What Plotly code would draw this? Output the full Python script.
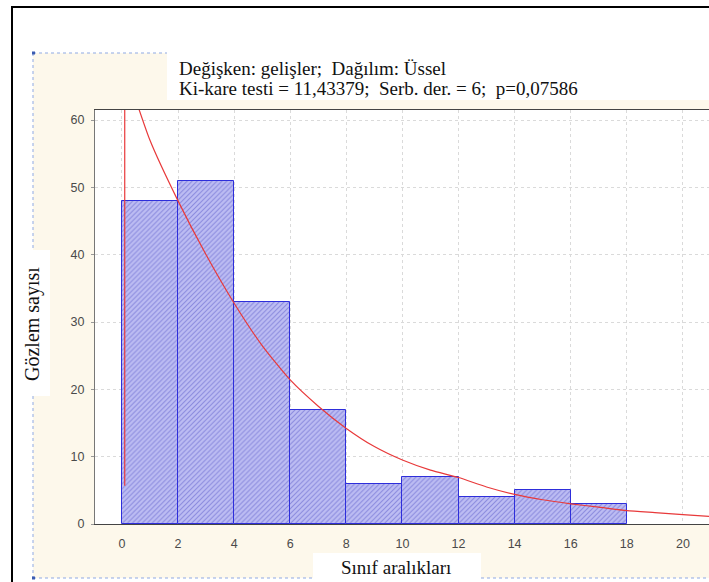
import plotly.graph_objects as go

# ---- data ----
bin_left = [0, 2, 4, 6, 8, 10, 12, 14, 16]
bin_width = 2
counts = [48, 51, 33, 17, 6, 7, 4, 5, 3]

# fitted curve
spike_x = [0.1, 0.1]
spike_y = [5.7, 68]
curve_x = [0.1, 1, 2, 3, 4, 5, 6, 7, 8, 9, 10, 11, 12, 13, 14, 15, 16, 17, 18, 19, 20, 21]
curve_y = [68, 57, 48, 40, 32.8, 26.5, 21.4, 17.5, 14.2, 11.5, 9.5, 8.0, 6.9, 5.5, 4.4, 3.6, 3.0, 2.5, 2.0, 1.7, 1.4, 1.1]

x_ticks = [0, 2, 4, 6, 8, 10, 12, 14, 16, 18, 20]
y_ticks = [0, 10, 20, 30, 40, 50, 60]

title_lines = ["Değişken: gelişler;  Dağılım: Üssel",
               "Ki-kare testi = 11,43379;  Serb. der. = 6;  p=0,07586"]
x_title = "Sınıf aralıkları"
y_title = "Gözlem sayısı"

# ---- layout geometry (pixels) ----
W, H = 709, 582
L, R, T, B = 95, 0, 110, 58
PW, PH = W - L - R, H - T - B


def px(x):
    return (x - L) / PW


def py(y):
    return (H - B - y) / PH


centers = [b + bin_width / 2 for b in bin_left]
SERIF = "Liberation Serif, Times New Roman, serif"

fig = go.Figure()
fig.add_trace(go.Bar(
    x=centers, y=counts, width=[bin_width] * len(counts),
    marker=dict(color="#B3B3F0",
                line=dict(color="#2E2EDB", width=1),
                pattern=dict(shape="/", fgcolor="#5555C6", bgcolor="#BDBDF3", size=3.5, solidity=0.3)),
    showlegend=False, hoverinfo="x+y"))
fig.add_trace(go.Scatter(
    x=spike_x, y=spike_y, mode="lines", line=dict(color="#E8393A", width=1.2),
    showlegend=False))
fig.add_trace(go.Scatter(
    x=curve_x, y=curve_y, mode="lines", line=dict(color="#E8393A", width=1.2, shape="spline", smoothing=0.6),
    showlegend=False))

shapes = []
# cream background panel
shapes.append(dict(type="rect", xref="paper", yref="paper", x0=px(33), x1=px(712), y0=py(578), y1=py(53),
                   fillcolor="#FDF8EB", line=dict(width=0), layer="below"))
# white plot area
shapes.append(dict(type="rect", xref="paper", yref="paper", x0=0, x1=1, y0=0, y1=1,
                   fillcolor="white", line=dict(width=0), layer="below"))
# white title box
shapes.append(dict(type="rect", xref="paper", yref="paper", x0=px(167), x1=px(712), y0=py(100), y1=py(40),
                   fillcolor="white", line=dict(width=0), layer="below"))
# white y-label box
shapes.append(dict(type="rect", xref="paper", yref="paper", x0=px(18), x1=px(50), y0=py(396), y1=py(250),
                   fillcolor="white", line=dict(width=0), layer="below"))
# white x-label box
shapes.append(dict(type="rect", xref="paper", yref="paper", x0=px(313), x1=px(481), y0=py(584), y1=py(553),
                   fillcolor="white", line=dict(width=0), layer="below"))
# dotted blue borders of the panel
dot = dict(color="#8FA9E3", width=1, dash="dot")
shapes.append(dict(type="line", xref="paper", yref="paper", x0=px(33), x1=px(33), y0=py(53), y1=py(250), line=dot))
shapes.append(dict(type="line", xref="paper", yref="paper", x0=px(33), x1=px(33), y0=py(396), y1=py(578), line=dot))
shapes.append(dict(type="line", xref="paper", yref="paper", x0=px(33), x1=px(167), y0=py(53), y1=py(53), line=dot))
shapes.append(dict(type="line", xref="paper", yref="paper", x0=px(33), x1=px(313), y0=py(578), y1=py(578), line=dot))
shapes.append(dict(type="line", xref="paper", yref="paper", x0=px(481), x1=px(712), y0=py(578), y1=py(578), line=dot))
# small corner squares
for cy in (53, 578):
    shapes.append(dict(type="rect", xref="paper", yref="paper", x0=px(32), x1=px(35), y0=py(cy + 1.5), y1=py(cy - 1.5),
                       fillcolor="#3A5BB0", line=dict(width=0)))
# black outer frame (left and top)
shapes.append(dict(type="line", xref="paper", yref="paper", x0=px(12), x1=px(12), y0=py(7), y1=py(590),
                   line=dict(color="black", width=2)))
shapes.append(dict(type="line", xref="paper", yref="paper", x0=px(11), x1=px(712), y0=py(7), y1=py(7),
                   line=dict(color="black", width=2)))

annotations = []
for i, t in enumerate(title_lines):
    annotations.append(dict(text=t, xref="paper", yref="paper", x=px(177), y=py(68 + 20 * i),
                            xanchor="left", yanchor="middle", showarrow=False,
                            font=dict(family=SERIF, size=19, color="#111")))
annotations.append(dict(text=x_title, xref="paper", yref="paper", x=px(396), y=py(567),
                        xanchor="center", yanchor="middle", showarrow=False,
                        font=dict(family=SERIF, size=19, color="#111")))
annotations.append(dict(text=y_title, xref="paper", yref="paper", x=px(32), y=py(324), textangle=-90,
                        xanchor="center", yanchor="middle", showarrow=False,
                        font=dict(family=SERIF, size=20, color="#111")))

fig.update_layout(
    width=W, height=H, autosize=False,
    margin=dict(l=L, r=R, t=T, b=B, pad=0),
    paper_bgcolor="white", plot_bgcolor="rgba(0,0,0,0)",
    bargap=0, shapes=shapes, annotations=annotations,
    font=dict(family="Liberation Sans", size=12.5, color="#4A4A4A"),
)
fig.update_xaxes(range=[-0.96, 20.93], tickvals=x_ticks, ticktext=[str(v) for v in x_ticks],
                 showgrid=True, gridcolor="#DADADA", griddash="dot", gridwidth=1,
                 showline=True, linecolor="#444", linewidth=1, mirror=True,
                 ticks="", zeroline=False, ticklabelstandoff=8)
fig.update_yaxes(range=[0, 61.5], tickvals=y_ticks, ticktext=[str(v) for v in y_ticks],
                 showgrid=True, gridcolor="#DADADA", griddash="dot", gridwidth=1,
                 showline=True, linecolor="#777", linewidth=1,
                 ticks="outside", ticklen=3, tickcolor="#999", zeroline=False, ticklabelstandoff=4)

fig.write_html("out.html")
